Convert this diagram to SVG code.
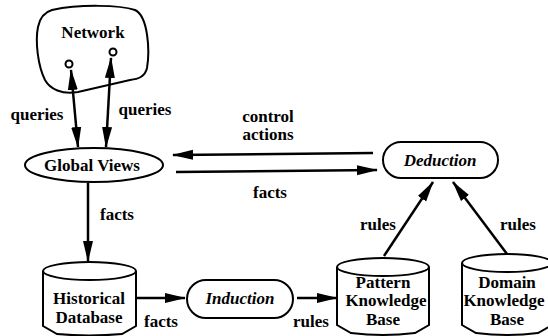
<svg xmlns="http://www.w3.org/2000/svg" width="548" height="336" viewBox="0 0 548 336">
<defs>
<marker id="ah" markerUnits="userSpaceOnUse" markerWidth="22" markerHeight="12" refX="20" refY="5" orient="auto-start-reverse" viewBox="0 0 22 10">
<path d="M0,0 L21,5 L0,10 Z" fill="#000"/>
</marker>
<style>
text{font-weight:bold;font-size:17px;fill:#000;text-anchor:middle}
.i{font-style:italic}
.s{fill:#fff;stroke:#000;stroke-width:2}
.c{fill:none;stroke:#000;stroke-width:2.5;marker-end:url(#ah)}
.d{marker-start:url(#ah)}
</style>
</defs>
<rect width="548" height="336" fill="#fff"/>
<g id="network">
<path class="s" d="M52,10 C80,4 120,5 135,10 C148,16 150,50 147,68 C145,77 138,79 130,80 L78,92 C62,95 50,89 45,80 C38,66 35,42 38,27 C40,17 45,12 52,10 Z"/>
<circle class="s" cx="69" cy="64" r="3.5"/>
<circle class="s" cx="113" cy="52" r="3.5"/>
<text font-family="Liberation Serif" x="93" y="38">Network</text>
</g>
<g id="global-views">
<ellipse class="s" cx="94" cy="165" rx="69" ry="17"/>
<text font-family="Liberation Serif" x="92" y="171">Global Views</text>
</g>
<g id="deduction">
<rect class="s" x="383" y="142" width="115" height="36" rx="18"/>
<text font-family="Liberation Serif" class="i" x="440" y="166">Deduction</text>
</g>
<g id="historical-database">
<path class="s" d="M43,271 L43,326 L57,334 Q89,337 122,334 L136,326 L136,271"/>
<ellipse class="s" cx="89.5" cy="271" rx="46.5" ry="9"/>
<text font-family="Liberation Serif" x="89" y="304">Historical</text>
<text font-family="Liberation Serif" x="89" y="323">Database</text>
</g>
<g id="induction">
<rect class="s" x="187" y="280" width="106" height="38" rx="19"/>
<text font-family="Liberation Serif" class="i" x="240" y="304">Induction</text>
</g>
<g id="pattern-kb">
<path class="s" d="M337,267 L337,325 L351,333 Q383,337 415,333 L429,325 L429,267"/>
<ellipse class="s" cx="383" cy="267" rx="46" ry="9"/>
<text font-family="Liberation Serif" x="383" y="288">Pattern</text>
<text font-family="Liberation Serif" x="386" y="306">Knowledge</text>
<text font-family="Liberation Serif" x="383" y="325">Base</text>
</g>
<g id="domain-kb">
<path class="s" d="M462,263 L462,325 L476,333 Q507,337 538,333 L552,325 L552,263"/>
<ellipse class="s" cx="507" cy="263" rx="45" ry="9"/>
<text font-family="Liberation Serif" x="507" y="288">Domain</text>
<text font-family="Liberation Serif" x="504" y="306">Knowledge</text>
<text font-family="Liberation Serif" x="507" y="325">Base</text>
</g>
<g id="connectors">
<line class="c d" x1="71" y1="70" x2="78" y2="147"/>
<line class="c d" x1="111" y1="58" x2="106" y2="147"/>
<line class="c" x1="373" y1="153" x2="173" y2="155"/>
<line class="c" x1="176" y1="172" x2="377" y2="170"/>
<line class="c" x1="88" y1="183" x2="88" y2="261"/>
<line class="c" x1="137" y1="298" x2="185" y2="298"/>
<line class="c" x1="297" y1="298" x2="337" y2="298"/>
<line class="c" x1="384" y1="256" x2="433" y2="182"/>
<line class="c" x1="507" y1="254" x2="453" y2="182"/>
<text font-family="Liberation Serif" x="37" y="120">queries</text>
<text font-family="Liberation Serif" x="145" y="115">queries</text>
<text font-family="Liberation Serif" x="268" y="122">control</text>
<text font-family="Liberation Serif" x="268" y="140">actions</text>
<text font-family="Liberation Serif" x="270" y="198">facts</text>
<text font-family="Liberation Serif" x="117" y="220">facts</text>
<text font-family="Liberation Serif" x="161" y="327">facts</text>
<text font-family="Liberation Serif" x="311" y="327">rules</text>
<text font-family="Liberation Serif" x="378" y="230">rules</text>
<text font-family="Liberation Serif" x="518" y="230">rules</text>
</g>
</svg>
